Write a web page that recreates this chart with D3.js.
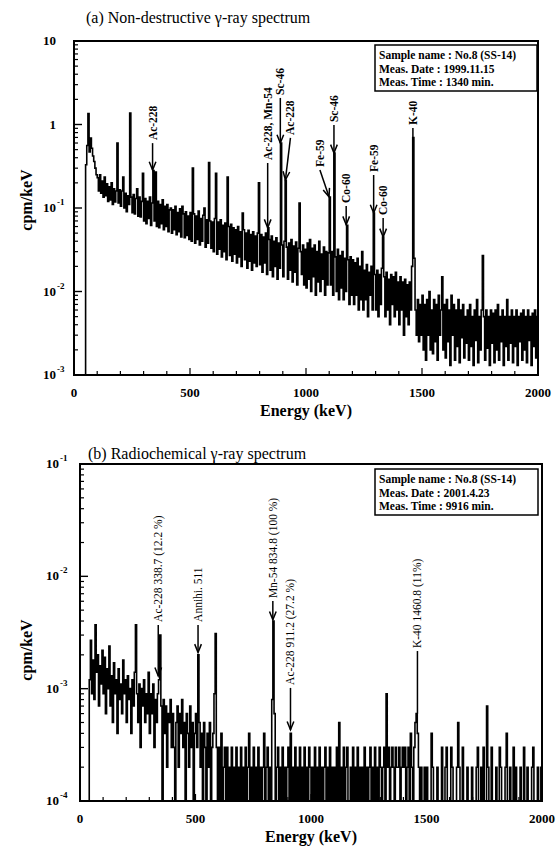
<!DOCTYPE html>
<html><head><meta charset="utf-8">
<script src="https://cdn.jsdelivr.net/npm/d3@7"></script>
<style>
body{margin:0;background:#fff;}
svg{display:block;}
text{font-family:"Liberation Serif","Times New Roman",serif;fill:#000;}
</style></head><body>
<svg id="c" width="558" height="853"></svg>
<script>
// ---------- DATA ----------
const energyStart = 0;      // keV, first bin
const energyStep = 5;       // keV per bin

// (a) Non-destructive spectrum, values in 10^-3 cpm/keV, one per 5 keV bin
const topSpectrum = [
0,0,0,0,0,0,0,0,0,0, 330,560,1350,470,690,520,420,360,300,250,
230,160,250,150,210,135,235,140,195,120,180,125,200,110,170,118,160,600,115,165,
105,160,235,100,150,90,140,110,1370,135,88,145,85,130,170,80,135,78,120,260,
70,130,65,120,75,135,62,115,280,70,270,60,120,58,110,65,125,55,105,60,
110,52,95,100,50,95,55,105,48,88,52,98,45,105,85,44,90,47,80,42,
88,40,300,85,38,80,42,92,36,75,40,82,100,34,72,38,350,70,33,68,
30,75,260,28,68,32,72,26,62,30,66,24,235,60,27,64,23,58,28,55,
22,60,26,52,20,87,55,24,50,19,54,23,48,18,52,22,46,20,50,200,
21,48,17,45,22,50,16,58,42,18,46,15,40,20,44,14,38,19,600,36,
15,40,215,34,14,38,18,42,13,35,17,39,12,33,115,30,16,36,12,32,
11,38,14,42,10,33,15,36,9,30,13,40,10,28,14,34,9,30,12,29,
135,12,30,9,455,26,10,32,8,27,11,30,8,25,10,62,24,7,26,9,
24,7,22,9,25,6,20,8,30,6,18,8,21,5,17,9,20,6,87,16,
6,18,5,16,7,19,45,15,5,17,6,14,4,16,7,15,5,17,6,13,
4,15,6,13,3,14,5,12,4,13,6,20,700,25,6,3,8,2.5,7,3,
9,2,7,1.5,8,3,10,2,6,1.8,8,2.5,7,1.5,9,3,6,15,2,7,
1.6,8,2.5,6,1.3,9,3,7,1.5,6,2.2,8,1.4,6,2.8,7,1.6,5,2.4,6,
1.5,7,2.2,5,1.3,6,2.6,8,1.4,5,2.0,6,27,5,1.5,6,2.1,5,1.3,6,
2.4,5.5,1.4,6,2.0,7,1.5,5,2.5,6,1.3,5,2.2,8,1.5,5,2.4,6,1.4,5,
2.2,6,1.3,5,2.5,5.5,1.5,6,2.0,5,1.4,6,2.6,5,1.3,5.5,2.2,6,1.6,5
];

// (b) Radiochemical spectrum, values in 10^-4 cpm/keV, one per 5 keV bin
const bottomSpectrum = [
0,0,0,0,0,0,0,0,12,27, 9,18,8,37,14,20,7,16,11,22,
9,19,6,15,10,24,7,13,5,17,9,12,4,15,8,11,6,18,9,12,
5,13,8,10,4,12,7,14,37,9,5,11,3,10,7,12,5,9,6,14,
4,9,6,11,3,8,5,9,12,30,7,0,8,4,7,2,6,5,8,3,
6,3,0,5,7,2,6,4,8,3,5,1,6,4,2,7,3,5,0,4,
6,3,20,5,2,4,0,5,3,1,4,2,5,0,3,4,9,31,3,0,
3,1,4,0,2,3,1,3,0,2,0,3,1,2,0,3,1,2,0,3,
0,2,1,3,0,2,4,0,2,1,3,0,2,0,3,1,2,0,2,4,
0,2,3,0,2,1,8,40,6,0,2,3,0,2,1,3,0,2,1,2,
3,0,4,1,2,0,3,1,2,0,3,1,2,0,3,0,2,1,3,2,
0,2,1,3,0,2,1,3,0,2,1,2,3,0,2,1,3,0,2,1,
2,0,3,1,5,0,2,1,3,0,2,3,1,0,2,1,3,0,2,1,
3,0,2,1,2,0,3,1,2,0,2,3,0,2,1,3,0,2,1,3,
2,1,2,3,0,9,2,3,1,2,3,2,1,3,2,2,3,1,2,3,
2,3,1,2,3,0,4,2,1,3,5,6,4,2,0,2,0,1,2,0,
2,0,1,0,4,2,0,1,0,2,0,1,1,3,0,0,2,3,0,1,
0,3,2,0,1,0,2,5,2,0,1,3,0,1,0,2,0,1,0,2,
0,1,0,2,3,0,1,2,0,3,1,0,7,2,0,1,3,0,1,0,
2,0,1,3,2,0,1,0,2,4,1,0,2,0,1,3,0,2,0,1,
0,2,0,1,3,0,1,2,0,1,0,2,3,0,1,0,2,0,1,2
];

const xTicks = [0, 500, 1000, 1500, 2000];
const topYTicks = [10, 1, 0.1, 0.01, 0.001];
const topYTickLabels = [["10",""],["1",""],["10","-1"],["10","-2"],["10","-3"]];
const bottomYTicks = [0.1, 0.01, 0.001, 0.0001];
const bottomYTickLabels = [["10","-1"],["10","-2"],["10","-3"],["10","-4"]];

const topInfo = ["Sample name : No.8 (SS-14)", "Meas. Date : 1999.11.15", "Meas. Time : 1340 min."];
const bottomInfo = ["Sample name : No.8 (SS-14)", "Meas. Date : 2001.4.23", "Meas. Time : 9916 min."];

// annotations: energy (keV), label, label-bottom value, tip value (cpm/keV)
const topAnnotations = [
  {e:338.7, text:"Ac-228", labelAt:0.65, tip:0.285, arrow:true},
  {e:834.8, text:"Ac-228, Mn-54", labelAt:0.376, tip:0.058, arrow:true},
  {e:889.3, text:"Sc-46", labelAt:2.26, tip:0.6, arrow:true},
  {e:911.2, labelE:933, text:"Ac-228", labelAt:0.75, tip:0.217, arrow:true},
  {e:1099.2, labelE:1060, text:"Fe-59", labelAt:0.31, tip:0.136, arrow:true},
  {e:1120.5, text:"Sc-46", labelAt:1.07, tip:0.456, arrow:true},
  {e:1173.2, text:"Co-60", labelAt:0.115, tip:0.063, arrow:true},
  {e:1291.6, text:"Fe-59", labelAt:0.27, tip:0.087, arrow:true},
  {e:1332.5, text:"Co-60", labelAt:0.0825, tip:0.045, arrow:true},
  {e:1460.8, text:"K-40", labelAt:0.986, tip:0.7, arrow:false}
];
const bottomAnnotations = [
  {e:338.7, text:"Ac-228  338.7 (12.2 %)", labelAt:3.93e-3, tip:1.3e-3, arrow:true},
  {e:511, text:"Annihi.  511", labelAt:3.93e-3, tip:2.1e-3, arrow:true},
  {e:834.8, text:"Mn-54  834.8 (100 %)", labelAt:6.4e-3, tip:4.1e-3, arrow:true},
  {e:911.2, text:"Ac-228  911.2 (27.2 %)", labelAt:1.08e-3, tip:4.3e-4, arrow:true},
  {e:1460.8, text:"K-40  1460.8 (11%)", labelAt:2.3e-3, tip:6e-4, arrow:false}
];

// ---------- DRAW ----------
const svg = d3.select("#c");

function drawPanel(o) {
  const x = d3.scaleLinear().domain([0, 2000]).range([o.left, o.right]);
  const y = d3.scaleLog().domain(o.yDomain).range([o.bottom, o.top]).clamp(true);
  const g = svg.append("g");
  const clipId = "clip" + o.id;
  svg.append("defs").append("clipPath").attr("id", clipId)
    .append("rect").attr("x", o.left).attr("y", o.top)
    .attr("width", o.right - o.left).attr("height", o.bottom - o.top);

  // spectrum
  const pts = o.data.map((v, i) => [energyStart + i * energyStep, v * o.unit]);
  pts.push([2000, o.data[o.data.length - 1] * o.unit]);
  const line = d3.line()
    .x(d => x(d[0]))
    .y(d => y(d[1] > 0 ? d[1] : o.yDomain[0] * 0.5))
    .curve(d3.curveStepAfter);
  g.append("path").attr("d", line(pts)).attr("clip-path", `url(#${clipId})`)
    .attr("fill", "none").attr("stroke", "#000").attr("stroke-width", 1.6);

  // ticks - y
  const [d0, d1] = o.yDomain;
  for (let p = Math.round(Math.log10(d0)); p < Math.round(Math.log10(d1)); p++) {
    const base = Math.pow(10, p);
    for (let k = 2; k <= 9; k++) {
      const yy = y(base * k);
      g.append("line").attr("x1", o.left).attr("x2", o.left + 4).attr("y1", yy).attr("y2", yy)
        .attr("stroke", "#000").attr("stroke-width", 1.2);
    }
  }
  o.yTicks.forEach((t, i) => {
    const yy = y(t);
    g.append("line").attr("x1", o.left).attr("x2", o.left + 8).attr("y1", yy).attr("y2", yy)
      .attr("stroke", "#000").attr("stroke-width", 1.4);
    const lab = o.yTickLabels[i];
    const bx = o.left - o.labGap;
    g.append("text").attr("x", bx).attr("y", yy + 4).attr("text-anchor", "end")
      .attr("font-size", 13).attr("font-weight", "bold").text(lab[0]);
    if (lab[1]) {
      g.append("text").attr("x", bx + 1).attr("y", yy - 3).attr("text-anchor", "start")
        .attr("font-size", 9).attr("font-weight", "bold").text(lab[1]);
    }
  });
  // ticks - x
  for (let e = 100; e < 2000; e += 100) {
    const xx = x(e);
    const len = e % 500 === 0 ? 7 : 4;
    g.append("line").attr("x1", xx).attr("x2", xx).attr("y1", o.bottom).attr("y2", o.bottom - len)
      .attr("stroke", "#000").attr("stroke-width", 1.2);
  }
  xTicks.forEach(t => {
    g.append("text").attr("x", x(t)).attr("y", o.bottom + 22).attr("text-anchor", "middle")
      .attr("font-size", 13).attr("font-weight", "bold").text(t);
  });

  // frame
  g.append("rect").attr("x", o.left).attr("y", o.top)
    .attr("width", o.right - o.left).attr("height", o.bottom - o.top)
    .attr("fill", "none").attr("stroke", "#000").attr("stroke-width", 2);

  // axis titles
  g.append("text").attr("x", (o.left + o.right) / 2).attr("y", o.bottom + 41)
    .attr("text-anchor", "middle").attr("font-size", 16).attr("font-weight", "bold").text("Energy (keV)");
  g.append("text").attr("transform", `translate(${o.yLabelX},${o.yLabelY}) rotate(-90)`)
    .attr("text-anchor", "middle").attr("font-size", 16).attr("font-weight", "bold").text("cpm/keV");
  // panel title
  g.append("text").attr("x", o.titleX).attr("y", o.titleY).attr("font-size", 16).text(o.title);

  // info box
  const ib = o.infoBox;
  g.append("rect").attr("x", ib.x).attr("y", ib.y).attr("width", ib.w).attr("height", ib.h)
    .attr("fill", "#fff").attr("stroke", "#000").attr("stroke-width", 1.5);
  o.info.forEach((s, i) => {
    g.append("text").attr("x", ib.x + 4).attr("y", ib.y + 14 + i * 13.5)
      .attr("font-size", 11.5).attr("font-weight", "bold").text(s);
  });

  // annotations
  o.ann.forEach(a => {
    const lx = x(a.labelE !== undefined ? a.labelE : a.e);
    const ly = y(a.labelAt);
    g.append("text").attr("transform", `translate(${lx + 4},${ly}) rotate(-90)`)
      .attr("text-anchor", "start").attr("font-size", o.annSize)
      .attr("font-weight", o.annWeight).text(a.text);
    const tx = x(a.e), ty = y(a.tip);
    g.append("line").attr("x1", lx).attr("y1", ly + 3).attr("x2", tx).attr("y2", ty)
      .attr("stroke", "#000").attr("stroke-width", 1.5);
    if (a.arrow) {
      const ang = Math.atan2(ty - (ly + 3), tx - lx);
      const L = 9, W = 0.38;
      const p1 = [tx - L * Math.cos(ang - W), ty - L * Math.sin(ang - W)];
      const p2 = [tx - L * Math.cos(ang + W), ty - L * Math.sin(ang + W)];
      g.append("path").attr("d", `M${p1[0]},${p1[1]}L${tx},${ty}L${p2[0]},${p2[1]}`)
        .attr("fill", "none").attr("stroke", "#000").attr("stroke-width", 1.5);
    }
  });
}

drawPanel({
  id: "a", left: 74, right: 538, top: 41, bottom: 375,
  yDomain: [0.001, 10], unit: 1e-3, data: topSpectrum,
  yTicks: topYTicks, yTickLabels: topYTickLabels, labGap: 18,
  yLabelX: 32, yLabelY: 200,
  title: "(a) Non-destructive \u03b3-ray spectrum", titleX: 86, titleY: 23,
  info: topInfo, infoBox: {x: 375, y: 45, w: 162, h: 46},
  ann: topAnnotations, annSize: 11.5, annWeight: "bold"
});
drawPanel({
  id: "b", left: 80, right: 542, top: 464, bottom: 801,
  yDomain: [0.0001, 0.1], unit: 1e-4, data: bottomSpectrum,
  yTicks: bottomYTicks, yTickLabels: bottomYTickLabels, labGap: 21,
  yLabelX: 32, yLabelY: 650,
  title: "(b) Radiochemical \u03b3-ray spectrum", titleX: 88, titleY: 459,
  info: bottomInfo, infoBox: {x: 375, y: 469, w: 163, h: 46},
  ann: bottomAnnotations, annSize: 11.5, annWeight: "normal"
});
</script>
</body></html>
